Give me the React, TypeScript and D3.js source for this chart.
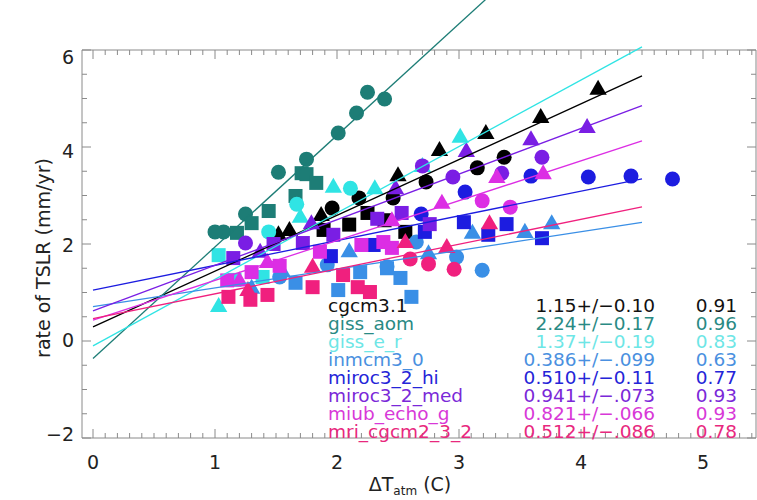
import React from "react";
import * as d3 from "d3";

const W = 757;
const H = 500;

const MODELS = ["cgcm3.1", "giss_aom", "giss_e_r", "inmcm3_0", "miroc3_2_hi", "miroc3_2_med", "miub_echo_g", "mri_cgcm2_3_2"];
const SLOPE_TEXT = ["1.15+/\u22120.10", "2.24+/\u22120.17", "1.37+/\u22120.19", "0.386+/\u2212.099", "0.510+/\u22120.11", "0.941+/\u2212.073", "0.821+/\u2212.066", "0.512+/\u2212.086"];
const CORR_TEXT = ["0.91", "0.96", "0.83", "0.63", "0.77", "0.93", "0.93", "0.78"];
// fitted lines as drawn in the figure (slope, intercept)
const SLOPES = [1.15, 2.3, 1.37, 0.386, 0.51, 0.941, 0.821, 0.512];
const INTERCEPTS = [0.29, -0.36, -0.1, 0.71, 1.05, 0.62, 0.43, 0.46];
const COLORS = ["#000000", "#1d7d76", "#30e4e4", "#3a8fe6", "#1c1ce0", "#7a1ee4", "#dc2ee4", "#f0207e"];
const TEXT_COLORS = ["#111111", "#2a8a84", "#6ee6e6", "#4a90e0", "#2424d8", "#7a28d8", "#d838d8", "#e8287e"];

const X_TICKS = [0, 1, 2, 3, 4, 5];
const Y_TICKS = [-2, 0, 2, 4, 6];

type P = [number, number];
// circles, triangles, squares per model
const CIRCLES: P[][] = [
  [[3.37, 3.79], [3.15, 3.57], [2.73, 3.28], [2.46, 2.95], [2.18, 2.95], [1.96, 2.74]],
  [[2.25, 5.13], [2.39, 4.99], [2.16, 4.7], [2.01, 4.29], [1.75, 3.75], [1.52, 3.48], [1.25, 2.62], [1.07, 2.25], [1.0, 2.25]],
  [[2.11, 3.15], [1.67, 2.82], [1.44, 2.25]],
  [[3.19, 1.46], [2.98, 1.73], [2.65, 2.04], [2.41, 1.53], [1.92, 1.57], [1.53, 1.32]],
  [[4.75, 3.34], [4.41, 3.4], [4.06, 3.38], [3.59, 3.4], [3.05, 3.07], [2.69, 2.62]],
  [[3.68, 3.79], [3.35, 3.46], [2.95, 3.38], [2.7, 3.61], [1.25, 2.02]],
  [[3.19, 2.89], [3.42, 2.76]],
  [[2.6, 1.69], [2.75, 1.59], [2.96, 1.48]],
];
const TRIANGLES: P[][] = [
  [[4.14, 5.2], [3.67, 4.62], [3.22, 4.29], [2.84, 3.94], [2.5, 3.42], [1.87, 2.6], [1.61, 2.29], [1.52, 2.2]],
  [],
  [[3.01, 4.21], [2.7, 3.61], [2.31, 3.15], [1.97, 3.18], [1.7, 2.56], [1.03, 0.72]],
  [[3.76, 2.43], [3.54, 2.25], [3.11, 2.23], [2.75, 1.81], [2.1, 1.85], [1.55, 1.45], [1.3, 1.1]],
  [],
  [[4.05, 4.41], [3.59, 4.16], [3.06, 3.92], [2.48, 3.15], [1.79, 2.43], [1.37, 1.84]],
  [[3.69, 3.46], [3.31, 3.38], [2.86, 2.85], [2.45, 2.49], [1.43, 1.63], [1.2, 1.25]],
  [[3.25, 2.43], [2.9, 1.94], [2.56, 2.04], [1.8, 1.53], [1.27, 1.05]],
];
const SQUARES: P[][] = [
  [[2.56, 2.25], [2.39, 2.49], [2.25, 2.64], [2.1, 2.4], [1.89, 2.29]],
  [[1.71, 3.46], [1.75, 3.44], [1.83, 3.26], [1.66, 2.99], [1.44, 2.68], [1.3, 2.43], [1.18, 2.23]],
  [[1.03, 1.77], [1.16, 1.26], [1.39, 1.32]],
  [[2.61, 0.91], [2.52, 1.3], [2.41, 1.5], [2.19, 1.42], [2.01, 1.05], [1.66, 1.2]],
  [[3.04, 2.45], [3.39, 2.41], [3.68, 2.12], [3.24, 2.19], [2.72, 2.25], [2.3, 1.98], [1.95, 1.75]],
  [[2.53, 2.64], [2.76, 2.41], [2.33, 2.52], [1.97, 2.19], [1.72, 2.02], [1.48, 2.0], [1.15, 1.71]],
  [[2.38, 2.04], [2.2, 1.98], [2.45, 1.92], [1.86, 1.84], [1.53, 1.55], [1.3, 1.42], [1.1, 1.25]],
  [[1.11, 0.91], [1.29, 0.85], [1.43, 0.95], [1.8, 1.11], [2.05, 1.36], [2.17, 1.11], [2.27, 1.01]],
];

const LINE_X0 = 0;
const LINE_X1 = 4.5;

export default function App() {
  const x = d3.scaleLinear().domain([0, 5]).range([93, 703]);
  const y = d3.scaleLinear().domain([-2, 6]).range([438, 50]);
  const yLab = d3.scaleLinear().domain([-2, 6]).range([434, 57]);
  const left = 82;
  const right = 756;
  const top = y(6);
  const bottom = y(-2);
  const font = "DejaVu Sans, sans-serif";
  const axisColor = "#8a8a8a";

  const xMinor = d3.range(0, 55).map((i) => i / 10).filter((v) => x(v) < right);
  const yMinor = d3.range(-4, 13).map((i) => i / 2);

  const line = d3.line<P>().x((d) => x(d[0])).y((d) => y(d[1]));
  const tri = d3.symbol(d3.symbolTriangle, 130)();

  return (
    <svg width={W} height={H} style={{ position: "fixed", left: 0, top: 0, background: "#fff" }} fontFamily={font}>
      <rect x={0} y={0} width={W} height={H} fill="#fff" />
      {/* frame */}
      <g stroke={axisColor} strokeWidth={1} fill="none">
        <line x1={left} y1={top} x2={right} y2={top} />
        <line x1={left} y1={bottom} x2={right} y2={bottom} />
        <line x1={left} y1={top} x2={left} y2={bottom} />
        <line x1={right} y1={top} x2={right} y2={bottom} />
        {xMinor.map((v, i) => {
          const major = Math.abs(v - Math.round(v)) < 1e-6;
          const len = major ? 9 : 5;
          return (
            <g key={"xm" + i}>
              <line x1={x(v)} x2={x(v)} y1={bottom} y2={bottom - len} />
              <line x1={x(v)} x2={x(v)} y1={top} y2={top + len} />
            </g>
          );
        })}
        {yMinor.map((v, i) => {
          const major = Math.abs(v / 2 - Math.round(v / 2)) < 1e-6;
          const len = major ? 9 : 5;
          return (
            <g key={"ym" + i}>
              <line x1={left} x2={left + len} y1={y(v)} y2={y(v)} />
              <line x1={right} x2={right - len} y1={y(v)} y2={y(v)} />
            </g>
          );
        })}
      </g>
      {/* tick labels */}
      {X_TICKS.map((v) => (
        <text key={"xt" + v} x={x(v)} y={469} fontSize={19} textAnchor="middle" fill="#222">
          {v}
        </text>
      ))}
      {Y_TICKS.map((v) => (
        <text key={"yt" + v} x={74} y={yLab(v)} dy="0.36em" fontSize={19} textAnchor="end" fill="#222">
          {v < 0 ? "\u2212" + Math.abs(v) : v}
        </text>
      ))}
      {/* axis titles */}
      <text transform="translate(50,258) rotate(-90)" fontSize={19} textAnchor="middle" fill="#222">
        rate of TSLR (mm/yr)
      </text>
      <text x={410} y={491} fontSize={19} textAnchor="middle" fill="#222">
        {"\u0394T"}
        <tspan fontSize={12} dy={4}>atm</tspan>
        <tspan dy={-4}>{" (C)"}</tspan>
      </text>
      {/* markers */}
      {MODELS.map((m, k) => (
        <g key={"pts" + k} fill={COLORS[k]}>
          {SQUARES[k].map((p, i) => (
            <rect key={"s" + i} x={x(p[0]) - 7} y={y(p[1]) - 7} width={14} height={14} />
          ))}
          {CIRCLES[k].map((p, i) => (
            <circle key={"c" + i} cx={x(p[0])} cy={y(p[1])} r={7.5} />
          ))}
          {TRIANGLES[k].map((p, i) => (
            <path key={"t" + i} d={tri || ""} transform={`translate(${x(p[0])},${y(p[1]) + 1})`} />
          ))}
        </g>
      ))}
      {/* fit lines */}
      {MODELS.map((m, k) => (
        <path
          key={"ln" + k}
          d={line([
            [LINE_X0, INTERCEPTS[k] + SLOPES[k] * LINE_X0],
            [LINE_X1, INTERCEPTS[k] + SLOPES[k] * LINE_X1],
          ]) || ""}
          stroke={COLORS[k]}
          strokeWidth={1.3}
          fill="none"
        />
      ))}
      {/* legend */}
      {MODELS.map((m, k) => (
        <g key={"lg" + k} fill={TEXT_COLORS[k]} fontSize={18.5}>
          <text x={328} y={305 + k * 18.1} dy="0.36em">{m}</text>
          <text x={655} y={305 + k * 18.1} dy="0.36em" textAnchor="end">{SLOPE_TEXT[k]}</text>
          <text x={737} y={305 + k * 18.1} dy="0.36em" textAnchor="end">{CORR_TEXT[k]}</text>
        </g>
      ))}
    </svg>
  );
}
